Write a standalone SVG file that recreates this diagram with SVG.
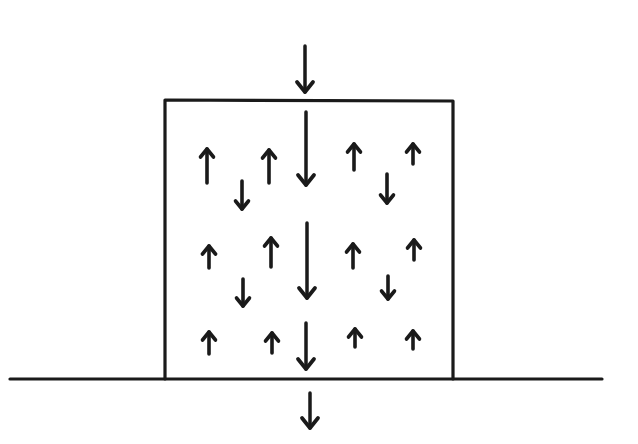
<svg xmlns="http://www.w3.org/2000/svg" width="638" height="444" viewBox="0 0 638 444">
<style>
.ln{stroke:#1a1a1a;fill:none;stroke-linecap:round;stroke-linejoin:round}
.frame{stroke-width:3.2}
.a{stroke-width:3.5;marker-end:url(#hb)}
.s{stroke-width:3.6;marker-end:url(#hs)}
</style>
<defs>
<marker id="hb" markerUnits="userSpaceOnUse" viewBox="-12 -10 14 20" markerWidth="14" markerHeight="20" refX="0" refY="0" orient="auto" overflow="visible">
<path d="M-10,-8 L0,0 L-10,8" fill="none" stroke="#1a1a1a" stroke-width="3.8" stroke-linecap="round" stroke-linejoin="round"/>
</marker>
<marker id="hs" markerUnits="userSpaceOnUse" viewBox="-12 -10 14 20" markerWidth="14" markerHeight="20" refX="0" refY="0" orient="auto" overflow="visible">
<path d="M-8,-6.5 L0,0 L-8,6.5" fill="none" stroke="#1a1a1a" stroke-width="3.6" stroke-linecap="round" stroke-linejoin="round"/>
</marker>
</defs>
<rect width="638" height="444" fill="#ffffff"/>
<g id="ground">
<line class="ln frame" x1="10" y1="379" x2="602" y2="379" stroke-width="3.6"/>
</g>
<g id="box">
<path class="ln frame" d="M165,379 L165,100 L453,101 L453,379"/>
</g>
<g id="connectors">
<line class="ln a" x1="305" y1="46" x2="305" y2="92"/>
<line class="ln a" x1="306" y1="112" x2="306" y2="185"/>
<line class="ln a" x1="307" y1="223" x2="307" y2="298"/>
<line class="ln a" x1="306" y1="323" x2="306" y2="369"/>
<line class="ln a" x1="310" y1="393" x2="310" y2="428"/>
<line class="ln s" x1="207" y1="183" x2="207" y2="149"/>
<line class="ln s" x1="269" y1="183" x2="269" y2="150"/>
<line class="ln s" x1="354" y1="170" x2="354" y2="144"/>
<line class="ln s" x1="413" y1="164" x2="413" y2="144"/>
<line class="ln s" x1="242" y1="181" x2="242" y2="209"/>
<line class="ln s" x1="387" y1="174" x2="387" y2="203"/>
<line class="ln s" x1="209" y1="268" x2="209" y2="246"/>
<line class="ln s" x1="271" y1="267" x2="271" y2="238"/>
<line class="ln s" x1="353" y1="268" x2="353" y2="244"/>
<line class="ln s" x1="414" y1="260" x2="414" y2="240"/>
<line class="ln s" x1="243" y1="279" x2="243" y2="306"/>
<line class="ln s" x1="388" y1="276" x2="388" y2="299"/>
<line class="ln s" x1="209" y1="354" x2="209" y2="332"/>
<line class="ln s" x1="272" y1="353" x2="272" y2="333"/>
<line class="ln s" x1="355" y1="347" x2="355" y2="329"/>
<line class="ln s" x1="413" y1="349" x2="413" y2="331"/>
</g>
</svg>
